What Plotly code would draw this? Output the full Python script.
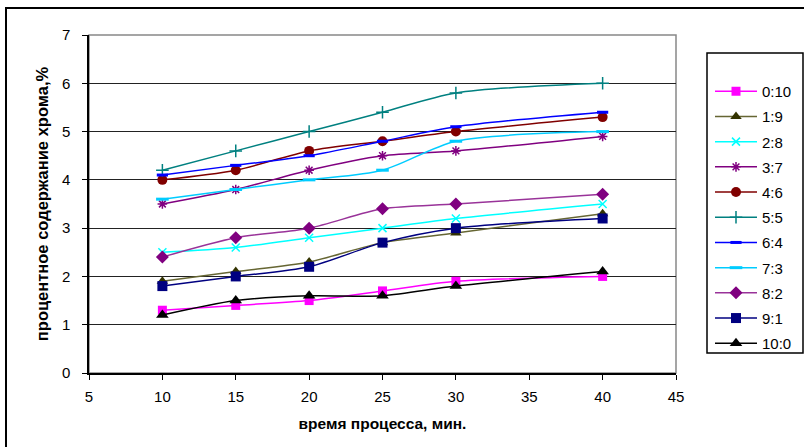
import plotly.graph_objects as go

time_min = [10, 15, 20, 25, 30, 40]
series_names = ["0:10", "1:9", "2:8", "3:7", "4:6", "5:5", "6:4", "7:3", "8:2", "9:1", "10:0"]
v_0_10 = [1.3, 1.4, 1.5, 1.7, 1.9, 2.0]
v_1_9 = [1.9, 2.1, 2.3, 2.7, 2.9, 3.3]
v_2_8 = [2.5, 2.6, 2.8, 3.0, 3.2, 3.5]
v_3_7 = [3.5, 3.8, 4.2, 4.5, 4.6, 4.9]
v_4_6 = [4.0, 4.2, 4.6, 4.8, 5.0, 5.3]
v_5_5 = [4.2, 4.6, 5.0, 5.4, 5.8, 6.0]
v_6_4 = [4.1, 4.3, 4.5, 4.8, 5.1, 5.4]
v_7_3 = [3.6, 3.8, 4.0, 4.2, 4.8, 5.0]
v_8_2 = [2.4, 2.8, 3.0, 3.4, 3.5, 3.7]
v_9_1 = [1.8, 2.0, 2.2, 2.7, 3.0, 3.2]
v_10_0 = [1.2, 1.5, 1.6, 1.6, 1.8, 2.1]
values = [v_0_10, v_1_9, v_2_8, v_3_7, v_4_6, v_5_5, v_6_4, v_7_3, v_8_2, v_9_1, v_10_0]

colors = ["#FF00FF", "#333300", "#00FFFF", "#800080", "#800000", "#008080",
          "#0000FF", "#00CCFF", "#800080", "#000080", "#000000"]
line_colors = ["#FF00FF", "#666633", "#00FFFF", "#800080", "#800000", "#008080",
               "#0000FF", "#00CCFF", "#993399", "#000080", "#000000"]
symbols = ["square", "triangle-up", "x-thin-open", "asterisk-open", "circle", "cross-thin-open",
           "line-ew-open", "line-ew-open", "diamond", "square", "triangle-up"]
sizes = [9, 10, 8, 8, 10, 9, 8, 9, 10, 10, 11]

fig = go.Figure()
for i, name in enumerate(series_names):
    open_sym = symbols[i].endswith("-open")
    fig.add_trace(go.Scatter(
        x=time_min, y=values[i], name=name, mode="lines+markers",
        legendgroup=name,
        line=dict(color=line_colors[i], width=1.5, shape="spline", smoothing=0.8),
        marker=dict(symbol=symbols[i], size=sizes[i], color=colors[i],
                    line=dict(color=colors[i], width=3 if symbols[i] == "line-ew-open" else (1.5 if open_sym else 0))),
    ))

L, T, R, B = 89, 35, 676, 373
W, H = 804, 447


def px_x(p):
    return (p - L) / (R - L)


def px_y(p):
    return (B - p) / (B - T)


font = "Liberation Sans, Arial, sans-serif"
fig.update_layout(
    width=W, height=H,
    margin=dict(l=L, r=W - R, t=T, b=H - B, autoexpand=False),
    paper_bgcolor="white", plot_bgcolor="white",
    font=dict(family=font, size=15, color="#000"),
    showlegend=True,
    legend=dict(x=px_x(710), y=px_y(75), xanchor="left", yanchor="top",
                bgcolor="rgba(0,0,0,0)", borderwidth=0, tracegroupgap=2.7,
                itemwidth=42, font=dict(size=15, family=font)),
    xaxis=dict(range=[5, 45], dtick=5, tick0=5, showgrid=False, zeroline=False,
               showline=True, linecolor="#000", linewidth=1.5,
               ticks="outside", ticklen=5, tickcolor="#000", ticklabelstandoff=4,
               title=dict(text="<b>время процесса, мин.</b>", font=dict(size=15.5), standoff=14)),
    yaxis=dict(range=[0, 7], dtick=1, showgrid=True, gridcolor="#222", gridwidth=1,
               zeroline=False, showline=True, linecolor="#000", linewidth=1.5,
               ticks="outside", ticklen=5, tickcolor="#000", ticklabelstandoff=9,
               title=dict(text="<b>процентное содержание хрома,%</b>", font=dict(size=16.5), standoff=9)),
    shapes=[
        dict(type="rect", xref="paper", yref="paper", x0=0, x1=1, y0=0, y1=1,
             line=dict(color="#888", width=1.5), layer="below"),
        dict(type="rect", xref="paper", yref="paper",
             x0=px_x(707), x1=px_x(803), y0=px_y(353), y1=px_y(53),
             line=dict(color="#000", width=1.5)),
        dict(type="rect", xref="paper", yref="paper",
             x0=px_x(6), x1=px_x(806), y0=px_y(449), y1=px_y(8),
             line=dict(color="#000", width=2)),
    ],
)

fig.write_html("out.html")
